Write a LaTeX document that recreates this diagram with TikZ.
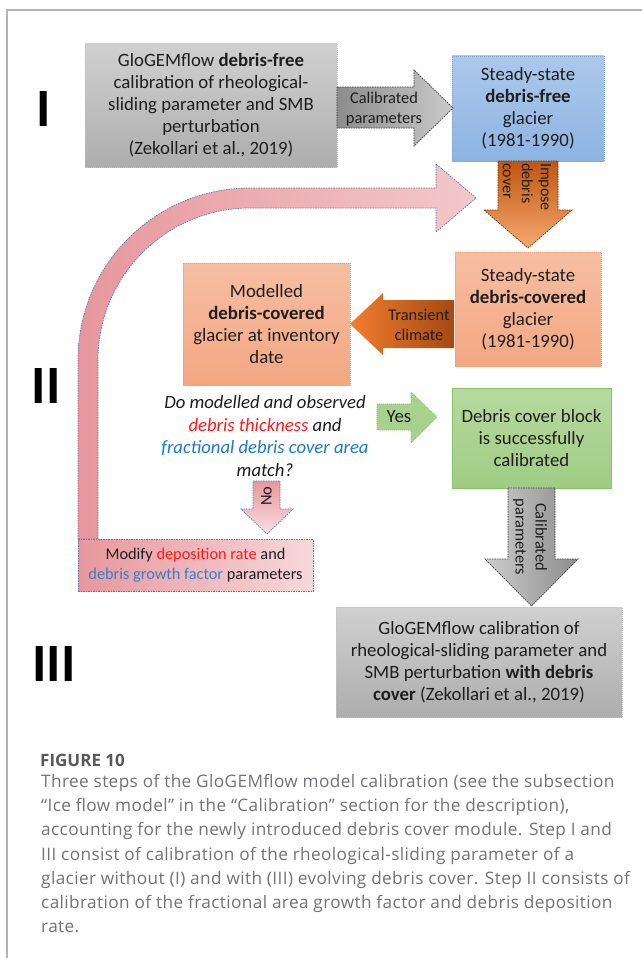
\documentclass[tikz,border=0pt]{standalone}
\usepackage{fontspec}
\setmainfont{Carlito}
\newfontfamily\capfont[LetterSpace=2.3]{Open Sans}
\newfontfamily\figfont{Open Sans}
\definecolor{framec}{HTML}{B4B4B4}
\definecolor{txtc}{HTML}{1E1E1E}
\definecolor{gboxT}{HTML}{D0D0D0}
\definecolor{gboxB}{HTML}{ADADAD}
\definecolor{gboxL}{HTML}{C4C4C4}
\definecolor{garrL}{HTML}{8C8C8C}
\definecolor{garrR}{HTML}{CACACA}
\definecolor{garrD}{HTML}{3C3C3C}
\definecolor{bboxT}{HTML}{ACC8EA}
\definecolor{bboxB}{HTML}{8DB4E2}
\definecolor{bboxL}{HTML}{7FA6D6}
\definecolor{oarrT}{HTML}{C0560F}
\definecolor{oarrB}{HTML}{F6A96E}
\definecolor{oarrD}{HTML}{5A3418}
\definecolor{sboxT}{HTML}{F6BEA2}
\definecolor{sboxB}{HTML}{F3A782}
\definecolor{sboxL}{HTML}{EE9D72}
\definecolor{tarrL}{HTML}{F07D2E}
\definecolor{tarrR}{HTML}{A54A12}
\definecolor{grT}{HTML}{B7D99F}
\definecolor{grB}{HTML}{9FCC83}
\definecolor{grL}{HTML}{8CC06B}
\definecolor{grA}{HTML}{A9D18E}
\definecolor{pkL}{HTML}{E7979D}
\definecolor{pkR}{HTML}{F3C8CB}
\definecolor{pkD}{HTML}{5B7DB0}
\definecolor{qred}{HTML}{FF1A1A}
\definecolor{qblue}{HTML}{1E78D2}
\definecolor{mblue}{HTML}{3380C8}
\definecolor{capg}{HTML}{727376}
\definecolor{capd}{HTML}{58595B}
\begin{document}
\begin{tikzpicture}[x=1pt,y=-1pt,
  boxtxt/.style={align=center, font=\fontsize{18.8}{22}\selectfont, text=txtc, inner sep=0pt},
  lbl/.style={align=center, font=\fontsize{16.4}{20}\selectfont, text=txtc, inner sep=0pt},
  dpat/.style={dash pattern=on 1.5pt off 1pt, line width=0.7pt},
  dotb/.style={dash pattern=on 1pt off 1pt, line width=0.6pt},
  graybox/.style={boxtxt, top color=gboxT, bottom color=gboxB, draw=gboxL, dotb},
  bluebox/.style={boxtxt, top color=bboxT, bottom color=bboxB, draw=bboxL, dotb},
  salbox/.style={boxtxt, top color=sboxT, bottom color=sboxB, draw=sboxL, dotb},
  greenbox/.style={boxtxt, top color=grT, bottom color=grB, draw=grL, line width=0.7pt},
  roman/.style={font=\fontsize{54}{54}\selectfont\bfseries, text=black, inner sep=0pt, anchor=base},
  capline/.style={font=\capfont\fontsize{17.2}{24}\selectfont, text=capg, inner sep=0pt, anchor=base west}
]
\useasboundingbox (0,0) rectangle (642,958);
\fill[white] (0,0) rectangle (642,958);
% frame
\draw[framec, line width=1.3pt] (7,958) -- (7,10) -- (642,10);

% pink U-shaped feedback arrow
\path[draw=pkD, dpat, left color=pkL, right color=pkR]
  (78,539) -- (78,360) arc[start angle=180, end angle=270, radius=172]
  -- (436,188) -- (436,164) -- (476,198) -- (436,232) -- (436,208) -- (250,208)
  arc[start angle=270, end angle=180, radius=152] -- (98,539) -- cycle;

% boxes
\node[graybox, minimum width=252, minimum height=123] (b1) at (211,105.5)
  {GloGEMflow \textbf{debris-free}\\calibration of rheological-\\sliding parameter and SMB\\perturbation\\(Zekollari et al., 2019)};
\node[bluebox, minimum width=152, minimum height=105] (b2) at (528,108.5)
  {Steady-state\\\textbf{debris-free}\\glacier\\(1981-1990)};
\node[salbox, minimum width=146, minimum height=114] (b3) at (528,309)
  {Steady-state\\\textbf{debris-covered}\\glacier\\(1981-1990)};
\node[salbox, minimum width=167, minimum height=122] (b4) at (266.5,324)
  {Modelled\\\textbf{debris-covered}\\glacier at inventory\\date};
\node[greenbox, minimum width=159, minimum height=100] (b5) at (531.5,438)
  {Debris cover block\\is successfully\\calibrated};
\node[graybox, minimum width=286, minimum height=110] (b6) at (479,662)
  {GloGEMflow calibration of\\rheological-sliding parameter and\\SMB perturbation \textbf{with debris}\\\textbf{cover} (Zekollari et al., 2019)};
\node[boxtxt, font=\fontsize{16.3}{20}\selectfont, draw=pkD, dpat, left color=pkL, right color=pkR!70!white,
  minimum width=235, minimum height=52] (b7) at (195.5,565.5)
  {Modify \textcolor{qred}{deposition rate} and\\\textcolor{mblue}{debris growth factor} parameters};

% gray arrow I
\path[draw=garrD, dpat, left color=garrL, right color=garrR]
  (337,87) -- (414,87) -- (414,70) -- (453,108) -- (414,146) -- (414,128) -- (337,128) -- cycle;
\node[lbl] (calp1) at (384,109) {Calibrated\\parameters};

% orange down arrow
\path[draw=oarrD, dpat, top color=oarrT, bottom color=oarrB]
  (498,161) -- (558,161) -- (558,210) -- (572,210) -- (528,248) -- (484,210) -- (498,210) -- cycle;
\node[lbl, align=left, font=\fontsize{16}{19}\selectfont, rotate=-90] (imp) at (527,187) {Impose\\debris\\cover};

% transient climate arrow
\path[left color=tarrL, right color=tarrR]
  (454,300) -- (383,300) -- (383,293) -- (350,324) -- (383,355) -- (383,348) -- (454,348) -- cycle;
\node[lbl] (trc) at (419,325) {Transient\\climate};

% question
\node[align=center, inner sep=0pt, text=txtc, font=\itshape\fontsize{18.7}{22.5}\selectfont] (q) at (265,436)
  {Do modelled and observed\\\textcolor{qred}{debris thickness} and\\\textcolor{qblue}{fractional debris cover area}\\match?};

% yes arrow
\path[draw=grL, dotb, fill=grA]
  (377,404) -- (411,404) -- (411,392) -- (437,417) -- (411,443) -- (411,430) -- (377,430) -- cycle;
\node[boxtxt] (yes) at (399,417) {Yes};

% no arrow
\path[draw=pkD, dpat, top color=pkL, bottom color=pkR!60!white]
  (253,481) -- (280,481) -- (280,509) -- (293,509) -- (267,534) -- (241,509) -- (253,509) -- cycle;
\node[lbl, rotate=90] (no) at (266.5,496) {No};

% gray down arrow
\path[draw=garrD, dpat, left color=garrR!95!white, right color=garrL]
  (508,488) -- (555,488) -- (555,559) -- (578,559) -- (531.5,606) -- (485,559) -- (508,559) -- cycle;
\node[lbl, rotate=-90] (calp2) at (530,537) {Calibrated\\parameters};

% roman numerals
\node[roman] (r1) at (44,126) {I};
\node[roman] (r2) at (46,403) {II};
\node[roman] (r3) at (54,681) {III};

% caption
\node[capline, font=\figfont\bfseries\fontsize{17}{19}\selectfont, text=capd] (cap0) at (40,766) {FIGURE 10};
\node[capline] (cap1) at (41,787) {Three steps of the GloGEMflow model calibration (see the subsection};
\node[capline] (cap2) at (41,811.3) {“Ice flow model” in the “Calibration” section for the description),};
\node[capline] (cap3) at (41,835.6) {accounting for the newly introduced debris cover module. Step I and};
\node[capline] (cap4) at (41,860) {III consist of calibration of the rheological-sliding parameter of a};
\node[capline] (cap5) at (41,884.2) {glacier without (I) and with (III) evolving debris cover. Step II consists of};
\node[capline] (cap6) at (41,908.5) {calibration of the fractional area growth factor and debris deposition};
\node[capline] (cap7) at (41,932.8) {rate.};
\end{tikzpicture}
\end{document}
